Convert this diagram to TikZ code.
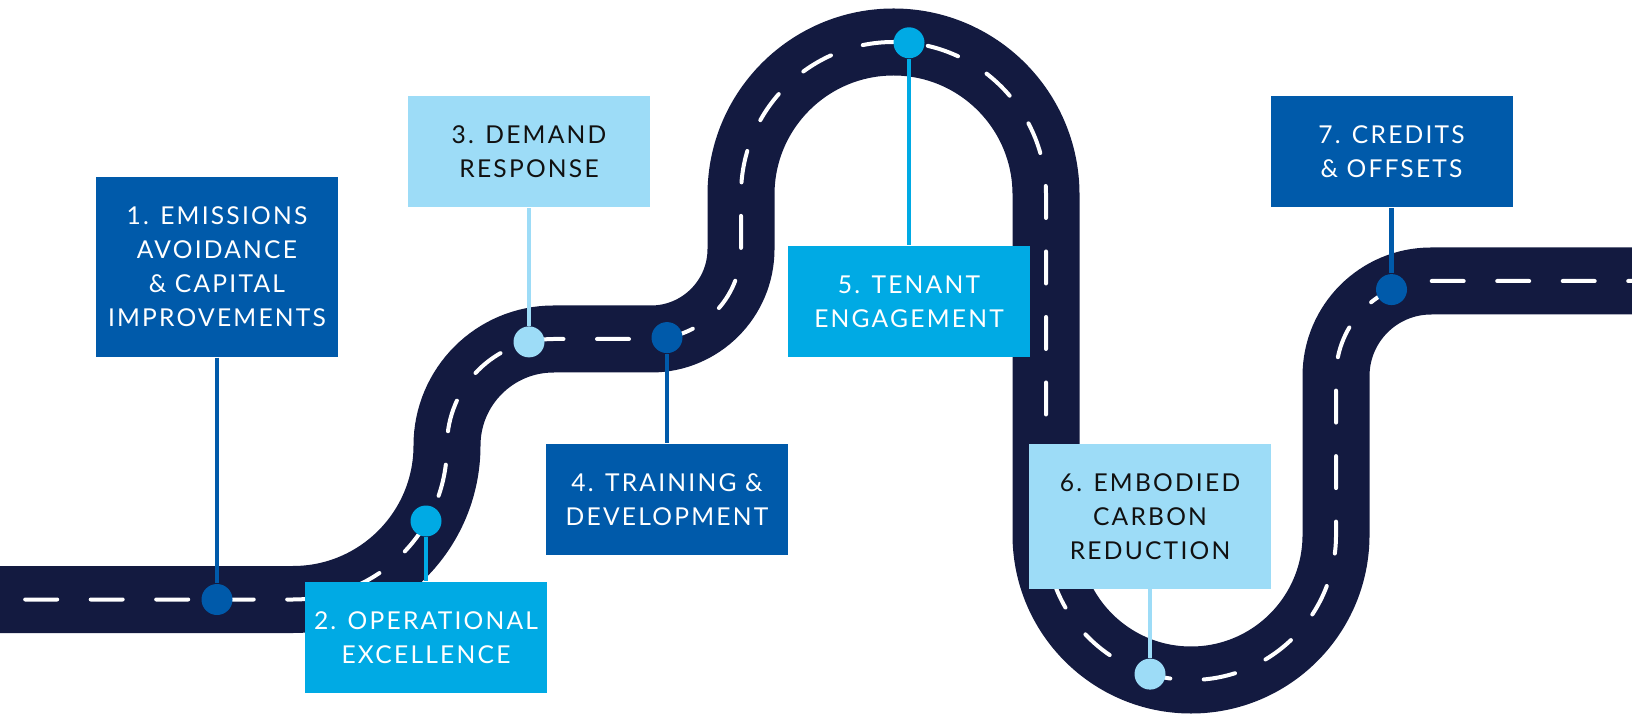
\documentclass[tikz,border=0pt]{standalone}
\usepackage{fontspec}
\newfontfamily\lblfont[LetterSpace=9]{Lato}
\definecolor{roadnavy}{HTML}{131A40}
\definecolor{dkblue}{HTML}{005AAA}
\definecolor{mdblue}{HTML}{00AAE4}
\definecolor{ltblue}{HTML}{9DDCF7}
\definecolor{lbltext}{HTML}{111111}
\begin{document}
\begin{tikzpicture}[
      lbl/.style={minimum width=2.42cm, minimum height=1.11cm, inner sep=0pt, align=center, font=\lblfont\fontsize{7.0}{9.7}\selectfont},
      drk/.style={lbl, fill=dkblue, text=white},
      mid/.style={lbl, fill=mdblue, text=white},
      lgt/.style={lbl, fill=ltblue, text=lbltext},
      pnt/.style={circle, minimum size=0.31cm, inner sep=0pt},
      lnk/.style={line width=0.043cm},
      road/.style={line width=0.67cm, roadnavy,
        postaction={draw, white, line width=0.04cm, line cap=round, dash pattern=on 0.32cm off 0.335cm, dash phase=0.403cm}}]
    \useasboundingbox (0,0) rectangle (16.32,7.16);
    \draw[road] (0,1.165) -- (2.93,1.165)
      arc[start angle=-90, end angle=0, radius=1.54]
      arc[start angle=180, end angle=90, radius=1.065] -- (6.51,3.77)
      arc[start angle=-90, end angle=0, radius=0.9] -- (7.41,5.215)
      arc[start angle=180, end angle=0, radius=1.525] -- (10.46,1.81)
      arc[start angle=180, end angle=360, radius=1.45] -- (13.36,3.40)
      arc[start angle=180, end angle=90, radius=0.95] -- (16.32,4.35);
    \node[drk, minimum height=1.80cm] (b1) at (2.17,4.49)  {1. EMISSIONS\\AVOIDANCE\\\& CAPITAL\\IMPROVEMENTS};
    \node[mid] (b2) at (4.26,0.785) {2. OPERATIONAL\\EXCELLENCE};
    \node[lgt] (b3) at (5.29,5.64)  {3. DEMAND\\RESPONSE};
    \node[drk] (b4) at (6.67,2.163) {4. TRAINING \&\\DEVELOPMENT};
    \node[mid] (b5) at (9.09,4.146) {5. TENANT\\ENGAGEMENT};
    \node[lgt, minimum height=1.44cm] (b6) at (11.50,1.995) {6. EMBODIED\\CARBON\\REDUCTION};
    \node[drk] (b7) at (13.915,5.64) {7. CREDITS\\\& OFFSETS};
    \node[pnt, fill=dkblue] (p1) at (2.17,1.165)  {};
    \node[pnt, fill=mdblue] (p2) at (4.26,1.95)   {};
    \node[pnt, fill=ltblue] (p3) at (5.29,3.741)  {};
    \node[pnt, fill=dkblue] (p4) at (6.67,3.784)  {};
    \node[pnt, fill=mdblue] (p5) at (9.09,6.732)  {};
    \node[pnt, fill=ltblue] (p6) at (11.50,0.419) {};
    \node[pnt, fill=dkblue] (p7) at (13.915,4.264) {};
    \draw[lnk, dkblue] (b1) -- (p1);
    \draw[lnk, mdblue] (p2) -- (b2);
    \draw[lnk, ltblue] (b3) -- (p3);
    \draw[lnk, dkblue] (p4) -- (b4);
    \draw[lnk, mdblue] (p5) -- (b5);
    \draw[lnk, ltblue] (b6) -- (p6);
    \draw[lnk, dkblue] (b7) -- (p7);
  \end{tikzpicture}
\end{document}
